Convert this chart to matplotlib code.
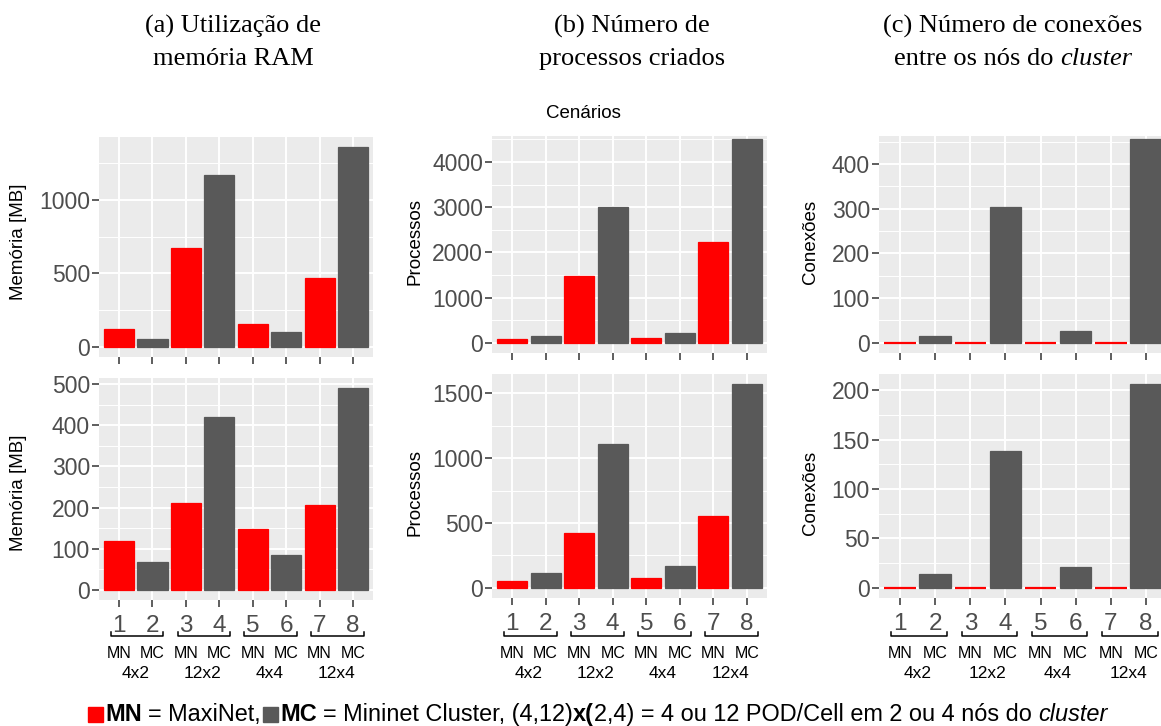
import matplotlib
matplotlib.use("Agg")
import matplotlib.pyplot as plt
import numpy as np
from matplotlib.patches import Rectangle
from matplotlib.transforms import blended_transform_factory

plt.rcParams["font.family"] = ["Liberation Sans", "DejaVu Sans"]

# dados
cenarios = [1, 2, 3, 4, 5, 6, 7, 8]
tipos = ["MN", "MC", "MN", "MC", "MN", "MC", "MN", "MC"]
grupos = ["4x2", "12x2", "4x4", "12x4"]

memoria_top = [121, 54, 669, 1167, 157, 103, 466, 1358]
memoria_bot = [118, 67, 210, 419, 149, 84, 207, 490]
processos_top = [74, 140, 1483, 2996, 111, 221, 2236, 4516]
processos_bot = [51, 116, 422, 1107, 72, 165, 551, 1570]
conexoes_top = [0, 16, 0, 305, 0, 27, 0, 457]
conexoes_bot = [0, 14, 0, 138, 0, 21, 0, 206]

cor_mn = "#FF0000"
cor_mc = "#595959"
cores = [cor_mn if t == "MN" else cor_mc for t in tipos]

W, H = 1161, 726
fig = plt.figure(figsize=(W / 100, H / 100), dpi=100)


def fy(y):
    return 1 - y / H


def px_axes(x0, y0, x1, y1):
    return fig.add_axes([x0 / W, 1 - y1 / H, (x1 - x0) / W, (y1 - y0) / H])


def panel(box, values, ylim, major, minor, ylabel, label_xy, bottom):
    ax = px_axes(*box)
    ax.set_facecolor("#EBEBEB")
    x = np.array(cenarios)
    # barras de altura zero aparecem como uma linha vermelha
    lws = [1.6 if v == 0 else 0.9 for v in values]
    ax.bar(x, values, width=0.9, color=cores, edgecolor=cores, linewidth=lws, zorder=3)
    ax.set_xlim(0.4, 8.6)
    ax.set_ylim(*ylim)
    ax.set_yticks(major)
    ax.set_yticks(minor, minor=True)
    ax.set_xticks(x)
    ax.grid(which="major", color="white", lw=1.4, zorder=0)
    ax.grid(which="minor", axis="y", color="white", lw=0.7, zorder=0)
    ax.set_axisbelow(True)
    for s in ax.spines.values():
        s.set_visible(False)
    ax.tick_params(which="major", length=5, width=1.1, color="#333333",
                   labelsize=16.5, labelcolor="#4D4D4D", pad=1.5)
    ax.tick_params(which="minor", length=0)
    fig.text(label_xy[0] / W, fy(label_xy[1]), ylabel, rotation=90,
             ha="center", va="center", fontsize=13.5)
    if not bottom:
        ax.set_xticklabels([])
        return ax
    ax.set_xticklabels([str(c) for c in cenarios])
    ax.tick_params(axis="x", labelsize=17.5, pad=5.5)
    trans = blended_transform_factory(ax.transData, fig.transFigure)
    for xi, t in zip(cenarios, tipos):
        ax.text(xi, fy(653), t, transform=trans, ha="center", va="center", fontsize=11.5)
    for k, g in enumerate(grupos):
        i = cenarios[2 * k]
        ax.plot([i - 0.25, i - 0.25, i + 1.33, i + 1.33],
                [fy(632), fy(636), fy(636), fy(632)],
                transform=trans, clip_on=False, color="black", lw=1.1)
        ax.text(i + 0.5, fy(674), g, transform=trans, ha="center", va="center", fontsize=12.5)
    return ax


panel((99, 137, 373, 357), memoria_top, (-68, 1426), [0, 500, 1000], [250, 750, 1250],
      "Memória [MB]", (19, 242), False)
panel((99, 378, 373, 600), memoria_bot, (-24.5, 514.5), [0, 100, 200, 300, 400, 500],
      [50, 150, 250, 350, 450], "Memória [MB]", (19, 493), True)
panel((492, 136, 767, 353), processos_top, (-226, 4576), [0, 1000, 2000, 3000, 4000],
      [500, 1500, 2500, 3500, 4500], "Processos", (415, 242), False)
panel((492, 374, 767, 598), processos_bot, (-78.5, 1648.5), [0, 500, 1000, 1500],
      [250, 750, 1250], "Processos", (415, 493), True)
panel((879, 136, 1167, 353), conexoes_top, (-23, 463), [0, 100, 200, 300, 400],
      [50, 150, 250, 350, 450], "Conexões", (810, 242), False)
panel((879, 374, 1167, 598), conexoes_bot, (-10.3, 216.3), [0, 50, 100, 150, 200],
      [25, 75, 125, 175], "Conexões", (810, 493), True)

fig.text(583 / W, fy(113), "Cenários", ha="center", va="center", fontsize=13.5)

renderer = fig.canvas.get_renderer()


def draw_runs(runs, xc, ybase, size, family, sq=15, target=None):
    def width(s, **kw):
        t = fig.text(0, 0, s, fontsize=size, family=family, **kw)
        w = t.get_window_extent(renderer).width
        t.remove()
        return w

    space = width("a a") - width("aa")
    placed = []
    x = 0
    for kind, val, opts in runs:
        if kind == "sq":
            placed.append(("sq", x, val))
            x += sq
        elif kind == "sp":
            x += space * val
        elif kind == "gap":
            x += val
        else:
            t = fig.text(0, fy(ybase), val, fontsize=size, family=family,
                         va="baseline", ha="left", **opts)
            placed.append(("t", x, t))
            x += t.get_window_extent(renderer).width
    if target is not None and abs(x - target) > 2:
        for kind, _, obj in placed:
            if kind == "t":
                obj.remove()
        return draw_runs(runs, xc, ybase, size * target / x, family, sq, None)
    x0 = xc - x / 2
    for kind, xo, obj in placed:
        if kind == "t":
            obj.set_x((x0 + xo) / W)
        else:
            fig.add_artist(Rectangle(((x0 + xo) / W, fy(ybase + 1)), sq / W, sq / H,
                                     color=obj, transform=fig.transFigure))


serif = ["Liberation Serif", "DejaVu Serif"]
draw_runs([("t", "(a) Utilização de", {})], 233, 33, 19, serif)
draw_runs([("t", "memória RAM", {})], 233, 65, 19, serif)
draw_runs([("t", "(b) Número de", {})], 632, 33, 19, serif)
draw_runs([("t", "processos criados", {})], 632, 65, 19, serif)
draw_runs([("t", "(c) Número de conexões", {})], 1013, 33, 19, serif)
draw_runs([("t", "entre os nós do", {}), ("sp", 1, None),
           ("t", "cluster", {"style": "italic"})], 1013, 65, 19, serif)

narrow = ["Liberation Sans Narrow", "Liberation Sans", "DejaVu Sans"]
legenda = [
    ("sq", cor_mn, None), ("gap", 2, None),
    ("t", "MN", {"weight": "bold"}), ("sp", 1, None),
    ("t", "= MaxiNet,", {}), ("gap", 2, None),
    ("sq", cor_mc, None), ("gap", 2, None),
    ("t", "MC", {"weight": "bold"}), ("sp", 1, None),
    ("t", "= Mininet Cluster, (4,12)", {}),
    ("t", "x(", {"weight": "bold"}),
    ("t", "2,4) = 4 ou 12 POD/Cell em 2 ou 4 nós do", {}), ("sp", 1, None),
    ("t", "cluster", {"style": "italic"}),
]
draw_runs(legenda, 598, 721, 15, narrow, target=1025)

fig.savefig("out.png", dpi=100)
